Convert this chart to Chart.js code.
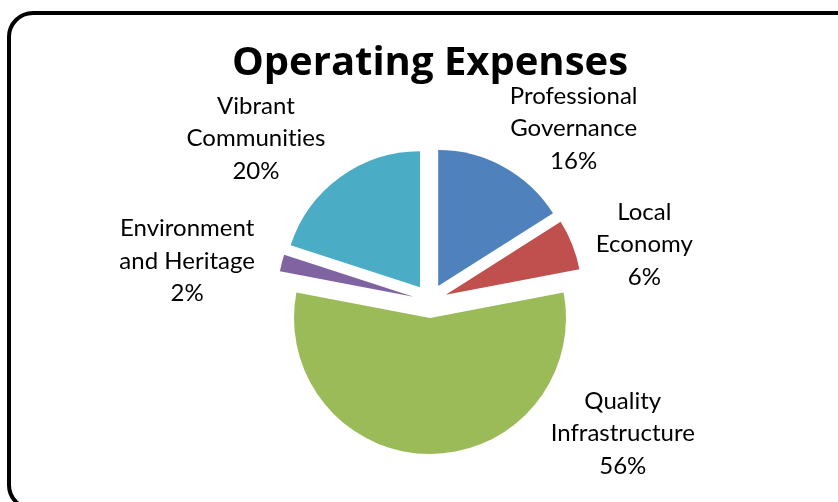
<!DOCTYPE html>
<html>
<head>
<meta charset="utf-8">
<script src="https://cdn.jsdelivr.net/npm/chart.js@4.4.0/dist/chart.umd.min.js"></script>
<style>
  html, body { margin: 0; padding: 0; background: #fff; overflow: hidden; }
  #wrap { position: relative; width: 838px; height: 502px; }
  #frame {
    position: absolute; left: 7px; top: 11px; width: 870px; height: 500px;
    border: 4px solid #000; border-radius: 26px; box-sizing: border-box;
  }
  #chart { position: absolute; left: 0; top: 0; }
</style>
</head>
<body>
<div id="wrap">
  <div id="frame"></div>
  <canvas id="chart" width="838" height="502"></canvas>
</div>
<script>
// chart data
const categories = [
    ['Professional', 'Governance'],
    ['Local', 'Economy'],
    ['Quality', 'Infrastructure'],
    ['Environment', 'and Heritage'],
    ['Vibrant', 'Communities']
];
const values = [16, 6, 56, 2, 20];
const colors = ['#4F81BD', '#C0504D', '#9BBB59', '#8064A2', '#4BACC6'];

// where each label sits: degrees turned from the slice middle, distance in radii
const labelShift = [11, 6.8, -55.5, -5, -11];
const labelDist = [1.65, 1.63, 1.72, 1.81, 1.75];
const explodeGap = 17;

// pull every slice straight out, like an exploded excel pie
// (chart.js's own offset also grows and trims the arcs)
const explode = {
    id: 'explode',
    beforeDatasetDraw(chart, args) {
        const ctx = chart.ctx;
        args.meta.data.forEach(arc => {
            const mid = (arc.startAngle + arc.endAngle) / 2;
            ctx.save();
            ctx.translate(Math.cos(mid) * explodeGap, Math.sin(mid) * explodeGap);
            arc.draw(ctx, chart.chartArea);
            ctx.restore();
        });
        return false;
    }
};

const sliceLabels = {
    id: 'sliceLabels',
    afterDatasetsDraw(chart) {
        const ctx = chart.ctx;
        const meta = chart.getDatasetMeta(0);
        const total = values.reduce((a, b) => a + b, 0);
        ctx.save();
        ctx.font = '24px Lato';
        ctx.letterSpacing = '0.01px'; // keeps "ti" from joining
        ctx.fillStyle = '#000';
        ctx.textAlign = 'center';
        ctx.textBaseline = 'middle';
        meta.data.forEach((arc, i) => {
            const p = arc.getProps(['x', 'y', 'startAngle', 'endAngle', 'outerRadius']);
            const a = (p.startAngle + p.endAngle) / 2 + labelShift[i] * Math.PI / 180;
            const d = p.outerRadius * labelDist[i];
            const cx = p.x + Math.cos(a) * d;
            const cy = p.y + Math.sin(a) * d;
            const lines = categories[i].concat([Math.round(values[i] / total * 100) + '%']);
            lines.forEach((t, k) => {
                ctx.fillText(t, cx, cy + (k - (lines.length - 1) / 2) * 32.5);
            });
        });
        ctx.restore();
    }
};

const ctx = document.getElementById('chart').getContext('2d');
const chart = new Chart(ctx, {
    type: 'pie',
    data: {
        labels: categories,
        datasets: [{
            data: values,
            backgroundColor: colors,
            borderWidth: 0,
            radius: 136
        }]
    },
    options: {
        responsive: false,
        animation: false,
        layout: {
            padding: { left: 22, right: 0, top: 0, bottom: 0 }
        },
        plugins: {
            legend: { display: false },
            tooltip: { enabled: false },
            title: {
                display: true,
                text: 'Operating Expenses',
                color: '#000',
                font: { family: 'Open Sans', size: 40, weight: 'bold', lineHeight: 1.2 },
                padding: { top: 40, bottom: 12 }
            }
        }
    },
    plugins: [explode, sliceLabels]
});
</script>
</body>
</html>
